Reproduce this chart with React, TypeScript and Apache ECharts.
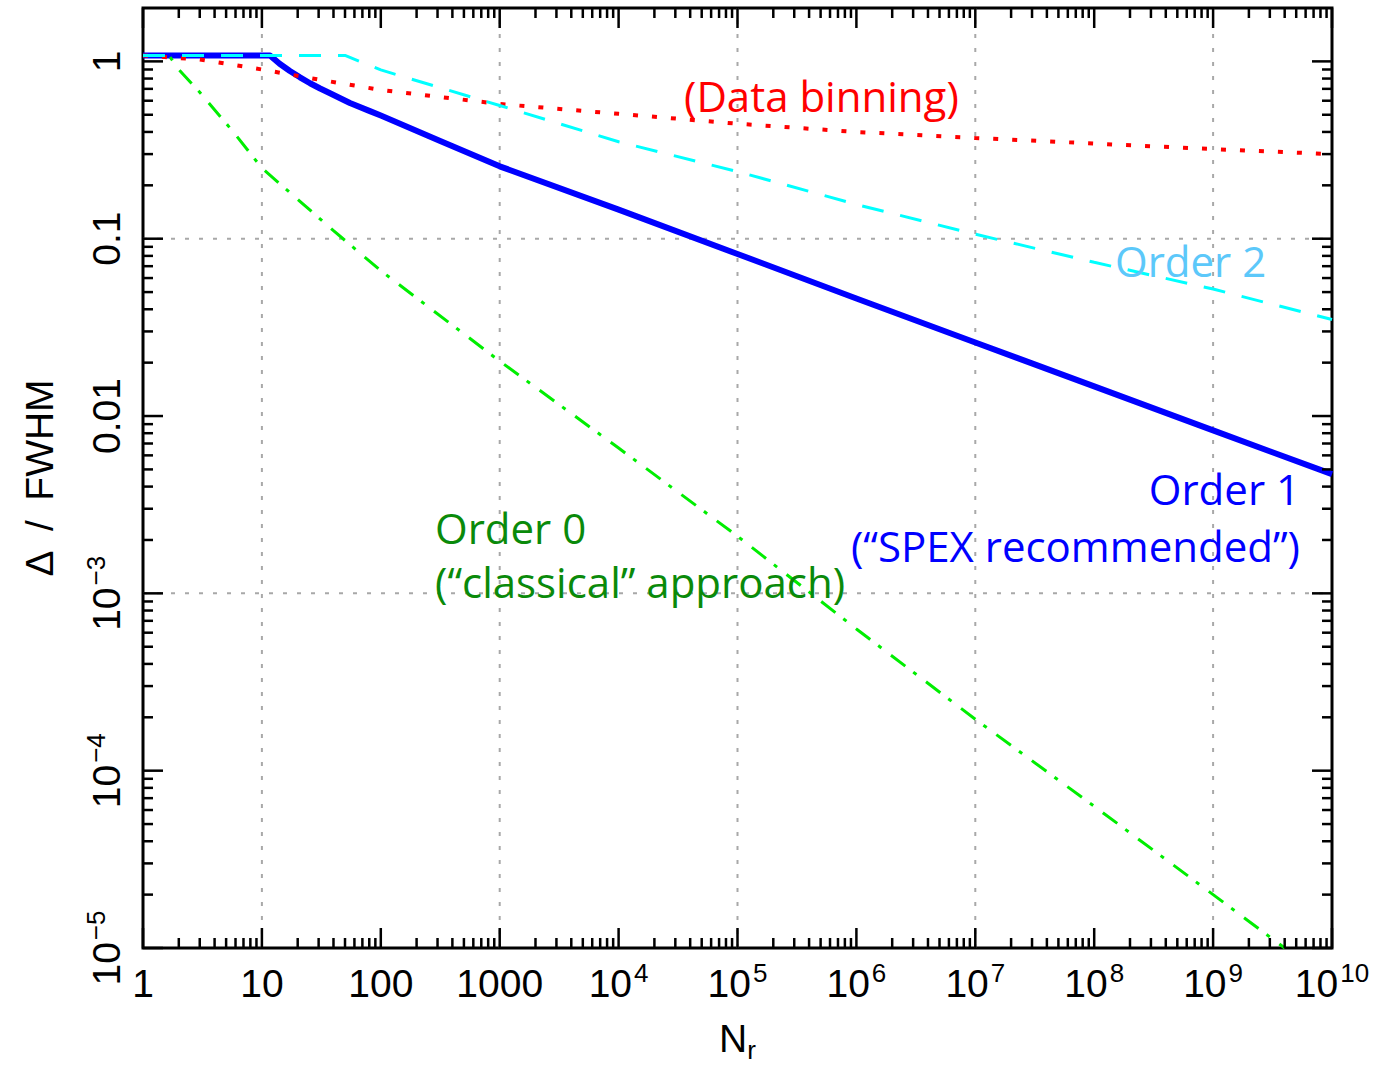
import { useEffect, useRef } from 'react';
import * as echarts from 'echarts';

// Axis ranges (log–log)
const X_MIN = 1;
const X_MAX = 1e10;
const Y_MIN = 1e-5;
const Y_MAX = 2;

// Decade labels
const xTickValues = [1, 10, 100, 1000, 1e4, 1e5, 1e6, 1e7, 1e8, 1e9, 1e10];
const xTickLabels = ['1', '10', '100', '1000', '10^4', '10^5', '10^6', '10^7', '10^8', '10^9', '10^10'];
const yTickValues = [1e-5, 1e-4, 1e-3, 0.01, 0.1, 1];
const yTickLabels = ['10^\u22125', '10^\u22124', '10^\u22123', '0.01', '0.1', '1'];

// Dotted grid lines
const xGridValues = [10, 1000, 1e5, 1e7, 1e9];
const yGridValues = [0.1, 1e-3];

// Order 1 ("SPEX recommended")
const order1N = [1, 11.7, 14.1, 17.2, 20.9, 25.4, 30.9, 37.4, 55, 81, 100, 316, 1000, 1e4, 1e5, 1e6, 1e7, 1e8, 1e9, 1e10];
const order1Delta = [1.08, 1.08, 0.97, 0.883, 0.813, 0.753, 0.703, 0.661, 0.582, 0.524, 0.495, 0.356, 0.256, 0.146, 0.082, 0.046, 0.026, 0.0147, 0.0083, 0.0047];

// Data binning
const binningN = [1, 3, 10, 30, 100, 1000, 1e4, 1e5, 1e6, 1e7, 1e8, 1e9, 1e10];
const binningDelta = [1.08, 1.025, 0.9, 0.79, 0.69, 0.575, 0.506, 0.445, 0.4, 0.37, 0.344, 0.32, 0.3];

// Order 0 ("classical" approach)
const order0N = [1, 1.65, 2, 3, 5.75, 10, 21, 40, 100, 1000, 1e4, 1e5, 1e6, 1e7, 1e8, 1e9, 4e9];
const order0Delta = [1.08, 1.08, 0.9, 0.67, 0.4, 0.25, 0.162, 0.111, 0.066, 0.0204, 0.0066, 0.0021, 6.3e-4, 1.95e-4, 6.3e-5, 2.0e-5, 1.0e-5];

// Order 2
const order2N = [1, 50, 100, 316, 1000, 1e4, 1e5, 1e6, 1e7, 1e8, 1e9, 1e10];
const order2Delta = [1.08, 1.08, 0.895, 0.71, 0.564, 0.352, 0.239, 0.156, 0.106, 0.0736, 0.052, 0.035];

const AXIS_FONT = '"Liberation Sans", Arial, Helvetica, sans-serif';
const NOTE_FONT = '"Open Sans", "Noto Sans", sans-serif';
const NOTE_SIZE = 42;

const zip = (xs: number[], ys: number[]) => xs.map((x, i) => [x, ys[i]]);

const toRich = (s: string) => {
  const [base, exp] = s.split('^');
  return exp ? `{b|${base}}{s|${exp}}` : `{b|${base}}`;
};

const tickRich = {
  b: { fontFamily: AXIS_FONT, fontSize: 39, lineHeight: 46, fill: '#000' },
  s: { fontFamily: AXIS_FONT, fontSize: 26, lineHeight: 24, verticalAlign: 'top', fill: '#000', padding: [0, 0, 0, 2] },
};

// Minor/major tick positions for each decade
const xTicks: number[][] = [];
for (let e = 0; e < 10; e++) {
  for (let k = 1; k <= 9; k++) xTicks.push([k * Math.pow(10, e), 1, k === 1 ? 1 : 0]);
}
xTicks.push([1e10, 1, 1]);
const yTicks: number[][] = [];
for (let e = -5; e < 0; e++) {
  for (let k = 1; k <= 9; k++) yTicks.push([1, k * Math.pow(10, e), k === 1 ? 1 : 0]);
}
yTicks.push([1, 1, 1]);

const TICK_STYLE = { stroke: '#000', lineWidth: 2.5 };
const GRID_STYLE = { stroke: '#a8a8a8', lineWidth: 2, lineDash: [4, 10] };

const note = (text: string, x: number, y: number, fill: string, align: string) => ({
  type: 'text',
  z: 100,
  x,
  y,
  style: { text, fill, font: `${NOTE_SIZE}px ${NOTE_FONT}`, align, verticalAlign: 'middle' },
});

const option: any = {
  animation: false,
  backgroundColor: '#fff',
  grid: {
    left: 143,
    right: 49,
    top: 8,
    bottom: 110,
    show: true,
    borderColor: '#000',
    borderWidth: 3,
    backgroundColor: 'transparent',
  },
  xAxis: {
    type: 'log',
    logBase: 10,
    min: X_MIN,
    max: X_MAX,
    axisLine: { show: false },
    axisTick: { show: false },
    axisLabel: { show: false },
    splitLine: { show: false },
    name: '{n|N}{r|r}',
    nameLocation: 'middle',
    nameGap: 71,
    nameTextStyle: {
      rich: {
        n: { fontFamily: AXIS_FONT, fontSize: 39, lineHeight: 44, verticalAlign: 'top', color: '#000' },
        r: { fontFamily: AXIS_FONT, fontSize: 26, lineHeight: 16, verticalAlign: 'bottom', color: '#000' },
      },
    },
  },
  yAxis: {
    type: 'log',
    logBase: 10,
    min: Y_MIN,
    max: Y_MAX,
    axisLine: { show: false },
    axisTick: { show: false },
    axisLabel: { show: false },
    splitLine: { show: false },
    name: 'Δ\u2002/\u2002FWHM',
    nameLocation: 'middle',
    nameRotate: 90,
    nameGap: 84,
    nameTextStyle: { fontFamily: AXIS_FONT, fontSize: 39, color: '#000' },
  },
  series: [
    {
      // dotted grid
      type: 'custom',
      silent: true,
      z: 1,
      encode: { x: 0, y: 1 },
      data: [
        ...xGridValues.map((v) => [v, 1, 0]),
        ...yGridValues.map((v) => [1, v, 1]),
      ],
      renderItem: (_p: any, api: any) => {
        const vertical = api.value(2) === 0;
        if (vertical) {
          const v = api.value(0);
          const a = api.coord([v, Y_MIN]);
          const b = api.coord([v, Y_MAX]);
          return { type: 'line', shape: { x1: a[0], y1: a[1], x2: b[0], y2: b[1] }, style: GRID_STYLE };
        }
        const v = api.value(1);
        const a = api.coord([X_MIN, v]);
        const b = api.coord([X_MAX, v]);
        return { type: 'line', shape: { x1: a[0], y1: a[1], x2: b[0], y2: b[1] }, style: GRID_STYLE };
      },
    },
    {
      name: 'Order 1',
      type: 'line',
      data: zip(order1N, order1Delta),
      showSymbol: false,
      symbol: 'none',
      z: 3,
      lineStyle: { color: '#0000ff', width: 6, join: 'round' },
    },
    {
      name: 'Data binning',
      type: 'line',
      data: zip(binningN, binningDelta),
      showSymbol: false,
      symbol: 'none',
      z: 4,
      lineStyle: { color: '#ff0000', width: 4, type: [5, 14] },
    },
    {
      name: 'Order 0',
      type: 'line',
      data: zip(order0N, order0Delta),
      showSymbol: false,
      symbol: 'none',
      z: 4,
      lineStyle: { color: '#00ee00', width: 3, type: [18, 10, 4, 12] },
    },
    {
      name: 'Order 2',
      type: 'line',
      data: zip(order2N, order2Delta),
      showSymbol: false,
      symbol: 'none',
      z: 5,
      lineStyle: { color: '#00ffff', width: 3, type: [22, 17] },
    },
    {
      // x ticks, bottom and top
      type: 'custom',
      silent: true,
      z: 6,
      encode: { x: 0, y: 1 },
      data: xTicks,
      renderItem: (_p: any, api: any) => {
        const v = api.value(0);
        const len = api.value(2) === 1 ? 20 : 10;
        const b = api.coord([v, Y_MIN]);
        const t = api.coord([v, Y_MAX]);
        return {
          type: 'group',
          children: [
            { type: 'line', shape: { x1: b[0], y1: b[1], x2: b[0], y2: b[1] - len }, style: TICK_STYLE },
            { type: 'line', shape: { x1: t[0], y1: t[1], x2: t[0], y2: t[1] + len }, style: TICK_STYLE },
          ],
        };
      },
    },
    {
      // y ticks, left and right
      type: 'custom',
      silent: true,
      z: 6,
      encode: { x: 0, y: 1 },
      data: yTicks,
      renderItem: (_p: any, api: any) => {
        const v = api.value(1);
        const len = api.value(2) === 1 ? 20 : 10;
        const l = api.coord([X_MIN, v]);
        const r = api.coord([X_MAX, v]);
        return {
          type: 'group',
          children: [
            { type: 'line', shape: { x1: l[0], y1: l[1], x2: l[0] + len, y2: l[1] }, style: TICK_STYLE },
            { type: 'line', shape: { x1: r[0], y1: r[1], x2: r[0] - len, y2: r[1] }, style: TICK_STYLE },
          ],
        };
      },
    },
    {
      // x decade labels
      type: 'custom',
      silent: true,
      z: 6,
      encode: { x: 0, y: 1 },
      data: xTickValues.map((v) => [v, Y_MIN]),
      renderItem: (p: any, api: any) => {
        const pt = api.coord([api.value(0), Y_MIN]);
        return {
          type: 'text',
          x: pt[0],
          y: pt[1] + 35,
          style: {
            text: toRich(xTickLabels[p.dataIndex]),
            rich: tickRich,
            fill: '#000',
            fontFamily: AXIS_FONT,
            fontSize: 39,
            align: 'center',
            verticalAlign: 'middle',
          },
        };
      },
    },
    {
      // y decade labels, rotated
      type: 'custom',
      silent: true,
      z: 6,
      encode: { x: 0, y: 1 },
      data: yTickValues.map((v) => [X_MIN, v]),
      renderItem: (p: any, api: any) => {
        const pt = api.coord([X_MIN, api.value(1)]);
        return {
          type: 'text',
          x: pt[0] - 37,
          y: pt[1],
          rotation: Math.PI / 2,
          style: {
            text: toRich(yTickLabels[p.dataIndex]),
            rich: tickRich,
            fill: '#000',
            fontFamily: AXIS_FONT,
            fontSize: 39,
            align: 'center',
            verticalAlign: 'middle',
          },
        };
      },
    },
  ],
  graphic: [
    note('(Data binning)', 684, 95.5, '#ff0000', 'left'),
    note('Order 2', 1115, 260.5, '#5cc8fa', 'left'),
    note('Order 1', 1300, 488.5, '#0000ff', 'right'),
    note('(\u201cSPEX recommended\u201d)', 1300, 545.5, '#0000ff', 'right'),
    note('Order 0', 435, 527.5, '#0a8a0a', 'left'),
    note('(\u201cclassical\u201d approach)', 435, 581.5, '#0a8a0a', 'left'),
  ],
};

export default function App() {
  const ref = useRef<HTMLDivElement>(null);
  useEffect(() => {
    const el = ref.current;
    if (!el) return;
    const chart = echarts.init(el, null, { renderer: 'svg' });
    chart.setOption(option);
    return () => chart.dispose();
  }, []);
  return (
    <div
      ref={ref}
      style={{ position: 'absolute', left: 0, top: 0, width: 1381, height: 1068, background: '#fff' }}
    />
  );
}
